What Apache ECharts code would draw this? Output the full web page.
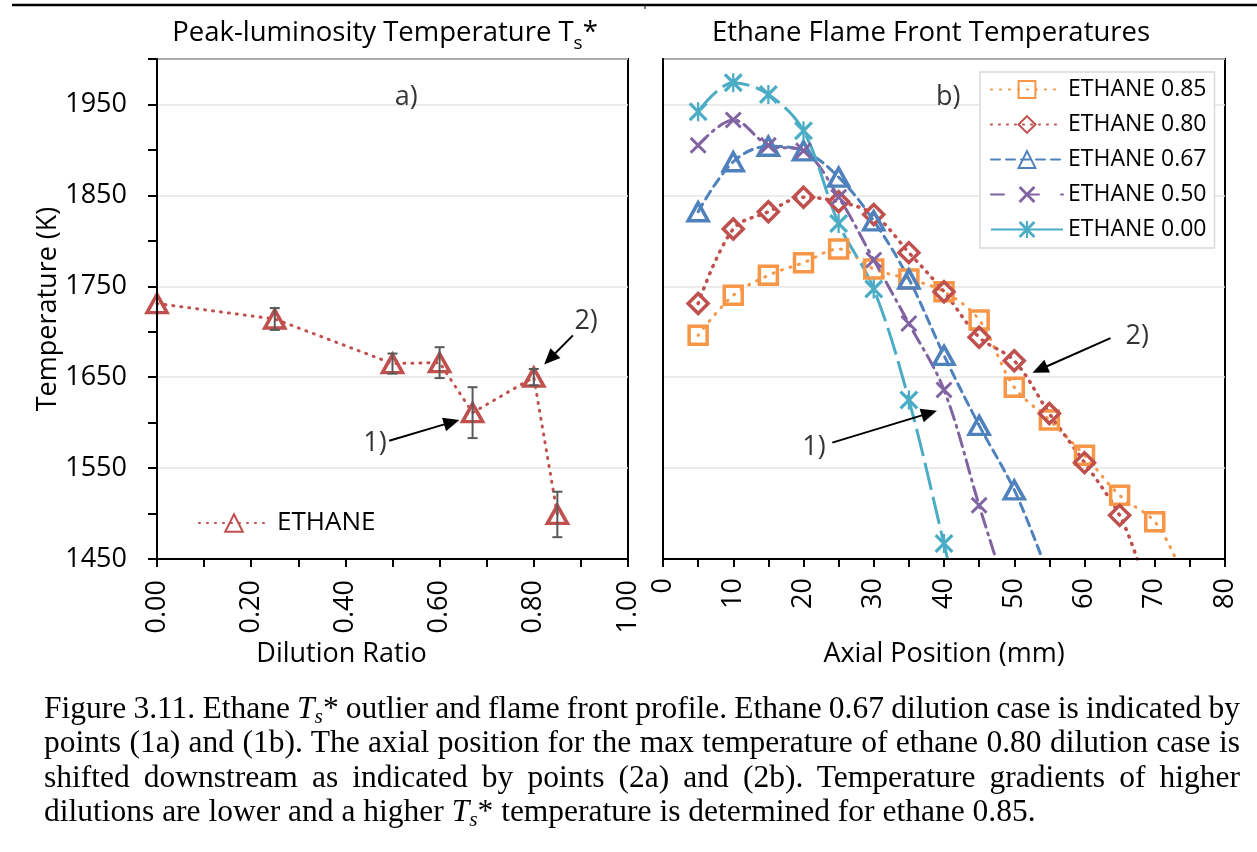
<!DOCTYPE html>
<html>
<head>
<meta charset="utf-8">
<script src="https://cdn.jsdelivr.net/npm/echarts@6/dist/echarts.min.js"></script>
<style>
html,body{margin:0;padding:0;background:#fff;}
#wrap{position:relative;width:1257px;height:852px;overflow:hidden;background:#fff;}
#chart{position:absolute;left:0;top:0;width:1257px;height:852px;}
#caption{position:absolute;left:44px;top:691px;width:1196px;font-family:"Liberation Serif","Times New Roman",serif;font-size:31.5px;line-height:34.3px;color:#000;}
#caption div{white-space:nowrap;}
#caption span.ln{display:inline-block;white-space:nowrap;}
#caption sub{font-size:0.68em;vertical-align:-0.22em;line-height:0;}
</style>
</head>
<body>
<div id="wrap">
<div id="chart"></div>
<div id="caption">
<div class="j"><span class="ln">Figure 3.11. Ethane <i>T<sub>s</sub></i>* outlier and flame front profile. Ethane 0.67 dilution case is indicated by</span></div>
<div class="j"><span class="ln">points (1a) and (1b). The axial position for the max temperature of ethane 0.80 dilution case is</span></div>
<div class="j"><span class="ln">shifted downstream as indicated by points (2a) and (2b). Temperature gradients of higher</span></div>
<div><span class="ln">dilutions are lower and a higher <i>T<sub>s</sub></i>* temperature is determined for ethane 0.85.</span></div>
</div>
</div>
<script>
// ---------------- data ----------------
const dilution = [0, 0.25, 0.5, 0.6, 0.67, 0.8, 0.85];
const peakTemp = [1731, 1714, 1665, 1666, 1611, 1650, 1499];
const peakErr  = [0, 12, 11, 17, 28, 9, 25];

const axialPos = [5, 10, 15, 20, 25, 30, 35, 40, 45, 50, 55, 60, 65, 70];
const eth085 = [1696, 1740, 1762, 1776, 1791, 1769, 1758, 1744, 1713, 1639, 1603, 1564, 1520, 1491];
const eth080 = [1731, 1813, 1832, 1848, 1843, 1829, 1787, 1744, 1694, 1668, 1610, 1556, 1498];
const eth067 = [1832, 1887, 1904, 1899, 1870, 1822, 1758, 1674, 1597, 1526];
const eth050 = [1905, 1933, 1905, 1899, 1848, 1779, 1709, 1636, 1509];
const eth000 = [1942, 1974, 1961, 1921, 1819, 1747, 1625, 1467];
// where each curve leaves the plot through the bottom axis
const end085 = [73, 1450];
const end080 = [67.5, 1450];
const end067 = [54, 1450];
const end050 = [47.4, 1450];
const end000 = [40.5, 1450];

const seriesNames = ['ETHANE 0.85', 'ETHANE 0.80', 'ETHANE 0.67', 'ETHANE 0.50', 'ETHANE 0.00'];

// annotations [x, y, text] and arrows [xFrom, yFrom, xTip, yTip]
const annotLeft  = [[0.911, 1711, '2)'], [0.463, 1577, '1)'], [0.529, 1958, 'a)']];
const arrowLeft  = [[0.883, 1696, 0.822, 1664], [0.493, 1580, 0.642, 1603]];
const annotRight = [[67.5, 1695, '2)'], [21.5, 1573, '1)'], [40.6, 1958, 'b)']];
const arrowRight = [[63.7, 1693, 52.6, 1655], [24.1, 1578, 39.0, 1613]];

// ---------------- styles ----------------
const FONT = '"Open Sans", "Noto Sans", sans-serif';
const ORANGE = '#F79646', RED = '#C0504D', BLUE = '#4F81BD', PURPLE = '#8064A2', CYAN = '#4BACC6';
const CLEAR = 'rgba(255,255,255,0)';
const X_PATH = 'path://M0 12L12 0L50 38L88 0L100 12L62 50L100 88L88 100L50 62L12 100L0 88L38 50Z';
const STAR_PATH = 'path://M0 12L12 0L50 38L88 0L100 12L62 50L100 88L88 100L50 62L12 100L0 88L38 50Z M44 0L56 0L56 100L44 100Z';

function curve(vals, end) {
  const d = vals.map((v, i) => [axialPos[i], v]);
  d.push({ value: end, symbol: 'none' });
  return d;
}

const chart = echarts.init(document.getElementById('chart'), null, { renderer: 'canvas' });

const axisText = { color: '#000', fontFamily: FONT, fontSize: 27 };
const blackLine = { color: '#000', width: 2 };
const gridColor = '#e6e6e6';

function yMain(gi, withLabels) {
  return {
    gridIndex: gi, type: 'value', min: 1450, max: 2000, interval: 50,
    axisLine: { show: true, onZero: false, lineStyle: blackLine },
    axisTick: { show: withLabels, length: 9, lineStyle: blackLine },
    axisLabel: withLabels ? Object.assign({
      margin: 30,
      formatter: v => ((v - 1450) % 100 === 0 && v < 2000) ? String(v) : ''
    }, axisText) : { show: false },
    splitLine: { show: false },
    name: withLabels ? 'Temperature (K)' : '',
    nameLocation: 'middle', nameGap: 91,
    nameTextStyle: axisText,
    z: 5
  };
}
function yGrid(gi) {
  return {
    gridIndex: gi, type: 'value', min: 1450, max: 2000, interval: 100,
    axisLine: { show: false }, axisTick: { show: false }, axisLabel: { show: false },
    splitLine: { show: true, lineStyle: { color: gridColor, width: 1.5 } }
  };
}

function measure(text, font) {
  const c = document.createElement('canvas').getContext('2d');
  c.font = font;
  return c.measureText(text).width;
}
const tFont = 27.5, sFont = 19;
const t1a = 'Peak-luminosity Temperature T', t1s = 's', t1c = '*';
const wA = measure(t1a, tFont + 'px "Open Sans"');
const wS = measure(t1s, sFont + 'px "Open Sans"');
const wC = measure(t1c, tFont + 'px "Open Sans"');
const t1x = 385 - (wA + wS + wC) / 2;

function arrowItem(params, api) {
  const p0 = api.coord([api.value(0), api.value(1)]);
  const p1 = api.coord([api.value(2), api.value(3)]);
  const dx = p1[0] - p0[0], dy = p1[1] - p0[1], L = Math.hypot(dx, dy);
  const ux = dx / L, uy = dy / L, hl = 16, hw = 7;
  const bx = p1[0] - ux * hl, by = p1[1] - uy * hl;
  return {
    type: 'group', children: [
      { type: 'line', shape: { x1: p0[0], y1: p0[1], x2: bx + ux * 2, y2: by + uy * 2 }, style: { stroke: '#000', lineWidth: 2 } },
      { type: 'polygon', shape: { points: [[p1[0], p1[1]], [bx - uy * hw, by + ux * hw], [bx + uy * hw, by - ux * hw]] }, style: { fill: '#000' } }
    ]
  };
}
function labelSeries(xi, yi, data) {
  return {
    type: 'scatter', xAxisIndex: xi, yAxisIndex: yi,
    data: data, symbolSize: 1, itemStyle: { color: CLEAR },
    label: { show: true, position: 'inside', formatter: p => p.value[2], color: '#000', fontFamily: FONT, fontSize: 27 },
    z: 6, silent: true
  };
}
function arrowSeries(xi, yi, data) {
  return {
    type: 'custom', xAxisIndex: xi, yAxisIndex: yi, data: data,
    encode: { x: [0, 2], y: [1, 3] }, renderItem: arrowItem, z: 6, silent: true
  };
}

const option = {
  animation: false,
  backgroundColor: '#fff',
  grid: [
    { left: 157, top: 59, width: 471, height: 500, show: true, borderColor: '#000', borderWidth: 2, backgroundColor: 'transparent' },
    { left: 663, top: 59, width: 562, height: 500, show: true, borderColor: '#000', borderWidth: 2, backgroundColor: 'transparent' }
  ],
  xAxis: [
    {
      gridIndex: 0, type: 'value', min: 0, max: 1, interval: 0.2,
      axisLine: { show: true, onZero: false, lineStyle: blackLine },
      axisTick: { show: true, length: 8, lineStyle: blackLine },
      minorTick: { show: true, splitNumber: 2, length: 8, lineStyle: blackLine },
      axisLabel: Object.assign({ rotate: 90, margin: 21, formatter: v => v.toFixed(2) }, axisText),
      splitLine: { show: false },
      name: 'Dilution Ratio', nameLocation: 'middle', nameGap: 82,
      nameTextStyle: Object.assign({ padding: [0, 102, 0, 0] }, axisText),
      z: 5
    },
    {
      gridIndex: 1, type: 'value', min: 0, max: 80, interval: 10,
      axisLine: { show: true, onZero: false, lineStyle: blackLine },
      axisTick: { show: true, length: 8, lineStyle: blackLine },
      minorTick: { show: true, splitNumber: 2, length: 8, lineStyle: blackLine },
      axisLabel: Object.assign({ rotate: 90, margin: 19 }, axisText),
      splitLine: { show: false },
      name: 'Axial Position (mm)', nameLocation: 'middle', nameGap: 82,
      nameTextStyle: axisText,
      z: 5
    }
  ],
  yAxis: [yMain(0, true), yGrid(0), yMain(1, false), yGrid(1)],
  legend: [
    {
      data: ['ETHANE'], left: 193, top: 505, itemWidth: 70, itemHeight: 22,
      selectedMode: false,
      textStyle: { color: '#000', fontFamily: FONT, fontSize: 26, padding: [0, 0, 0, 3] }
    },
    {
      data: [
        { name: seriesNames[0] },
        { name: seriesNames[1] },
        { name: seriesNames[2] },
        { name: seriesNames[3], lineStyle: { type: [13, 22] } },
        { name: seriesNames[4], lineStyle: { type: 'solid' } }
      ],
      orient: 'vertical', left: 980, top: 72,
      itemWidth: 72, itemHeight: 21, itemGap: 12,
      padding: [6, 8, 7, 10],
      borderColor: '#d9d9d9', borderWidth: 1.5, backgroundColor: '#fff',
      selectedMode: false,
      textStyle: { color: '#000', fontFamily: FONT, fontSize: 23 }
    }
  ],
  graphic: [
    { type: 'line', shape: { x1: 12, y1: 5, x2: 1257, y2: 5 }, style: { stroke: '#000', lineWidth: 2.5 }, silent: true },
    { type: 'line', shape: { x1: 645, y1: 5, x2: 645, y2: 9 }, style: { stroke: '#000', lineWidth: 1 }, silent: true },
    { type: 'text', x: t1x, y: 33, style: { text: t1a, font: tFont + 'px "Open Sans"', fill: '#000', align: 'left', verticalAlign: 'middle' }, silent: true },
    { type: 'text', x: t1x + wA, y: 44, style: { text: t1s, font: sFont + 'px "Open Sans"', fill: '#000', align: 'left', verticalAlign: 'middle' }, silent: true },
    { type: 'text', x: t1x + wA + wS, y: 33, style: { text: t1c, font: tFont + 'px "Open Sans"', fill: '#000', align: 'left', verticalAlign: 'middle' }, silent: true },
    { type: 'text', x: 931, y: 33, style: { text: 'Ethane Flame Front Temperatures', font: tFont + 'px "Open Sans"', fill: '#000', align: 'center', verticalAlign: 'middle' }, silent: true }
  ],
  series: [
    // ----- left chart -----
    {
      name: 'ETHANE', type: 'line', xAxisIndex: 0, yAxisIndex: 0,
      data: dilution.map((d, i) => [d, peakTemp[i]]),
      symbol: 'triangle', symbolSize: [20, 18],
      lineStyle: { color: RED, width: 3, type: [1, 7], cap: 'round' },
      itemStyle: { color: CLEAR, borderColor: RED, borderWidth: 3.5 },
      z: 3, silent: true
    },
    {
      name: 'err', type: 'custom', xAxisIndex: 0, yAxisIndex: 0,
      data: dilution.map((d, i) => [d, peakTemp[i], peakErr[i]]),
      encode: { x: 0, y: 1 },
      renderItem: function (params, api) {
        const x = api.value(0), y = api.value(1), e = api.value(2);
        if (!e) return null;
        const top = api.coord([x, y + e]), bot = api.coord([x, y - e]);
        const w = 5, st = { stroke: '#595959', lineWidth: 2 };
        return {
          type: 'group', children: [
            { type: 'line', shape: { x1: top[0], y1: top[1], x2: bot[0], y2: bot[1] }, style: st },
            { type: 'line', shape: { x1: top[0] - w, y1: top[1], x2: top[0] + w, y2: top[1] }, style: st },
            { type: 'line', shape: { x1: bot[0] - w, y1: bot[1], x2: bot[0] + w, y2: bot[1] }, style: st }
          ]
        };
      },
      z: 4, silent: true
    },
    labelSeries(0, 0, annotLeft),
    arrowSeries(0, 0, arrowLeft),
    // ----- right chart -----
    {
      name: seriesNames[0], type: 'line', xAxisIndex: 1, yAxisIndex: 2,
      data: curve(eth085, end085), smooth: 0.35,
      symbol: 'rect', symbolSize: 18,
      lineStyle: { color: ORANGE, width: 3, type: [1, 8], cap: 'round' },
      itemStyle: { color: CLEAR, borderColor: ORANGE, borderWidth: 3.5 },
      z: 3, silent: true
    },
    {
      name: seriesNames[1], type: 'line', xAxisIndex: 1, yAxisIndex: 2,
      data: curve(eth080, end080), smooth: 0.35,
      symbol: 'diamond', symbolSize: [20, 20],
      lineStyle: { color: RED, width: 3.5, type: [1, 7], cap: 'round' },
      itemStyle: { color: CLEAR, borderColor: RED, borderWidth: 3.5 },
      z: 3, silent: true
    },
    {
      name: seriesNames[2], type: 'line', xAxisIndex: 1, yAxisIndex: 2,
      data: curve(eth067, end067), smooth: 0.35,
      symbol: 'triangle', symbolSize: [20, 18],
      lineStyle: { color: BLUE, width: 3, type: [9, 6], cap: 'round' },
      itemStyle: { color: CLEAR, borderColor: BLUE, borderWidth: 3.5 },
      z: 3, silent: true
    },
    {
      name: seriesNames[3], type: 'line', xAxisIndex: 1, yAxisIndex: 2,
      data: curve(eth050, end050), smooth: 0.35,
      symbol: X_PATH, symbolSize: 17, symbolKeepAspect: true,
      lineStyle: { color: PURPLE, width: 3, type: [14, 6, 2, 6], cap: 'round' },
      itemStyle: { color: PURPLE, borderWidth: 0 },
      z: 3, silent: true
    },
    {
      name: seriesNames[4], type: 'line', xAxisIndex: 1, yAxisIndex: 2,
      data: curve(eth000, end000), smooth: 0.35,
      symbol: STAR_PATH, symbolSize: 19, symbolKeepAspect: true,
      lineStyle: { color: CYAN, width: 3, type: [28, 7] },
      itemStyle: { color: CYAN, borderWidth: 0 },
      z: 3, silent: true
    },
    labelSeries(1, 2, annotRight),
    arrowSeries(1, 2, arrowRight)
  ]
};
chart.setOption(option);

// justify the first three caption lines exactly across the caption width
(function () {
  const W = 1196;
  document.querySelectorAll('#caption div.j span.ln').forEach(sp => {
    const natural = sp.getBoundingClientRect().width;
    const spaces = (sp.textContent.match(/ /g) || []).length;
    if (spaces > 0) sp.style.wordSpacing = ((W - natural) / spaces) + 'px';
  });
})();
</script>
</body>
</html>
